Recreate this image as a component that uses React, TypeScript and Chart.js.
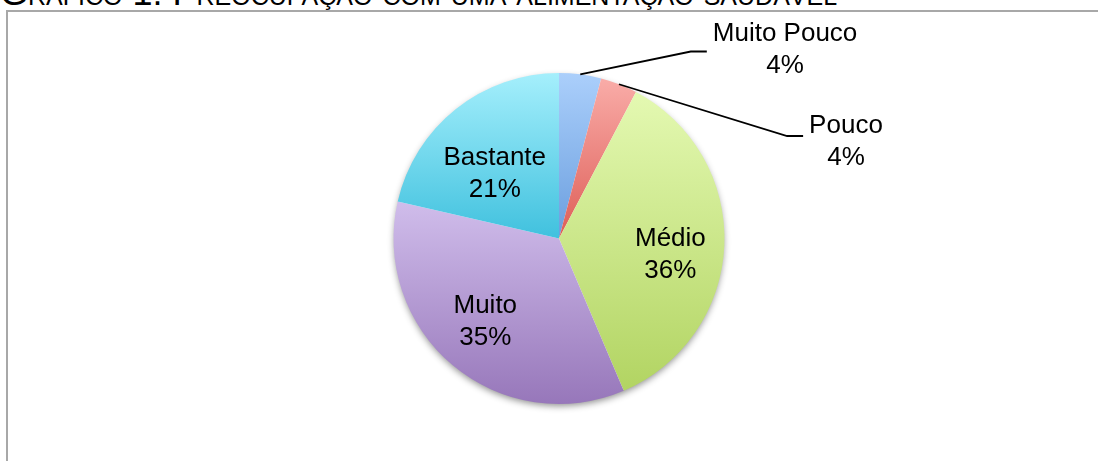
import React, { useEffect, useRef } from "react";
import { Chart, registerables } from "chart.js";
Chart.register(...registerables);

const title = "Gráfico 1: Preocupação com uma alimentação saudável";
const categories = ["Muito Pouco", "Pouco", "Médio", "Muito", "Bastante"];
const values = [4.1, 3.6, 35.9, 35.0, 21.4];
const topColors = ["#abcffb", "#f9aca8", "#e4f9b2", "#d0bdeb", "#a5effc"];
const bottomColors = ["#6a9ede", "#de5e57", "#b2d462", "#9777ba", "#40c1de"];

// label placement (relative to pie centre, in radius units / degrees)
const insideLayout: Record<number, { angleShift: number; frac: number }> = {
  2: { angleShift: 5.9, frac: 0.68 },
  3: { angleShift: 1.7, frac: 0.67 },
  4: { angleShift: -6.4, frac: 0.55 },
};
const outsideLayout: Record<number, { dx: number; dy: number; lineDy: number }> = {
  0: { dx: 1.366, dy: -1.142, lineDy: 2 },
  1: { dx: 1.734, dy: -0.583, lineDy: -6 },
};

const FONT = '26px "Liberation Sans", Arial, sans-serif';
const LINE_H = 32;

function geometry(chart: any) {
  const a = chart.chartArea;
  const cx = (a.left + a.right) / 2;
  const cy = (a.top + a.bottom) / 2;
  const r = Math.min(a.right - a.left, a.bottom - a.top) / 2;
  return { cx, cy, r };
}

function sliceAngles(i: number) {
  const total = values.reduce((s, v) => s + v, 0);
  let cum = 0;
  for (let k = 0; k < i; k++) cum += values[k];
  const start = -Math.PI / 2 + (cum / total) * Math.PI * 2;
  const end = start + (values[i] / total) * Math.PI * 2;
  return { start, end };
}

const labelPlugin = {
  id: "pieLabels",
  beforeDatasetsDraw(chart: any) {
    const { cx, cy, r } = geometry(chart);
    const ctx = chart.ctx;
    ctx.save();
    ctx.shadowColor = "rgba(0,0,0,0.45)";
    ctx.shadowBlur = 7;
    ctx.shadowOffsetY = 3;
    ctx.fillStyle = "#ffffff";
    ctx.beginPath();
    ctx.arc(cx, cy, r - 1, 0, Math.PI * 2);
    ctx.fill();
    ctx.restore();
  },
  afterDatasetsDraw(chart: any) {
    const { cx, cy, r } = geometry(chart);
    const ctx = chart.ctx;
    const total = values.reduce((s, v) => s + v, 0);
    ctx.save();
    ctx.font = FONT;
    ctx.fillStyle = "#000";
    ctx.textAlign = "center";
    ctx.textBaseline = "middle";
    categories.forEach((name, i) => {
      const pct = Math.round((values[i] / total) * 100) + "%";
      const { start, end } = sliceAngles(i);
      const mid = (start + end) / 2;
      if (insideLayout[i]) {
        const L = insideLayout[i];
        const ang = mid + (L.angleShift * Math.PI) / 180;
        const x = cx + Math.cos(ang) * r * L.frac;
        const y = cy + Math.sin(ang) * r * L.frac;
        ctx.fillText(name, x, y - LINE_H / 2);
        ctx.fillText(pct, x, y + LINE_H / 2);
      } else if (outsideLayout[i]) {
        const L = outsideLayout[i];
        const x = cx + L.dx * r;
        const y = cy + L.dy * r;
        ctx.fillText(name, x, y - LINE_H / 2);
        ctx.fillText(pct, x, y + LINE_H / 2);
        const w = Math.max(ctx.measureText(name).width, ctx.measureText(pct).width);
        const endX = x - w / 2 - 6;
        const endY = y + L.lineDy;
        const sx = cx + Math.cos(mid) * r;
        const sy = cy + Math.sin(mid) * r;
        ctx.beginPath();
        ctx.strokeStyle = "#000";
        ctx.lineWidth = 1.8;
        ctx.moveTo(sx, sy);
        ctx.lineTo(endX - 16, endY);
        ctx.lineTo(endX, endY);
        ctx.stroke();
      }
    });
    ctx.restore();
  },
};

export default function App() {
  const ref = useRef<HTMLCanvasElement | null>(null);
  useEffect(() => {
    if (!ref.current) return;
    const chart = new Chart(ref.current, {
      type: "pie",
      data: {
        labels: categories,
        datasets: [
          {
            data: values,
            borderWidth: 0,
            backgroundColor: (c: any) => {
              const ch = c.chart;
              const i = c.dataIndex;
              if (!ch.chartArea || i === undefined) return topColors[i ?? 0];
              const { cx, cy, r } = geometry(ch);
              const { start, end } = sliceAngles(i);
              const ys = [cy, cy + Math.sin(start) * r, cy + Math.sin(end) * r];
              for (let k = -4; k <= 8; k++) {
                const a = (k * Math.PI) / 2;
                if (a > start && a < end) ys.push(cy + Math.sin(a) * r);
              }
              const y0 = Math.min(...ys);
              const y1 = Math.max(...ys);
              const g = ch.ctx.createLinearGradient(0, y0, 0, y1);
              g.addColorStop(0, topColors[i]);
              g.addColorStop(1, bottomColors[i]);
              return g;
            },
          },
        ],
      },
      options: {
        animation: false,
        responsive: false,
        maintainAspectRatio: false,
        layout: { padding: { top: 73, bottom: 57, left: 20, right: 0 } },
        plugins: { legend: { display: false }, tooltip: { enabled: false }, title: { display: false } },
      },
      plugins: [labelPlugin],
    });
    return () => chart.destroy();
  }, []);

  return (
    <div style={{ position: "absolute", left: 0, top: 0, width: 1098, height: 461, overflow: "hidden", background: "#fff" }}>
      <div
        style={{
          position: "absolute",
          left: 0,
          top: -22,
          whiteSpace: "nowrap",
          fontFamily: '"Liberation Sans", Arial, sans-serif',
          fontSize: 36,
          fontVariant: "small-caps",
          lineHeight: "30px",
          color: "#000",
        }}
      >
        {title}
      </div>
      <div
        style={{
          position: "absolute",
          left: 6,
          top: 10,
          width: 1300,
          height: 700,
          border: "2px solid #a8a8a8",
        }}
      />
      <canvas ref={ref} width={1098} height={461} style={{ position: "absolute", left: 0, top: 0, width: 1098, height: 461 }} />
    </div>
  );
}
